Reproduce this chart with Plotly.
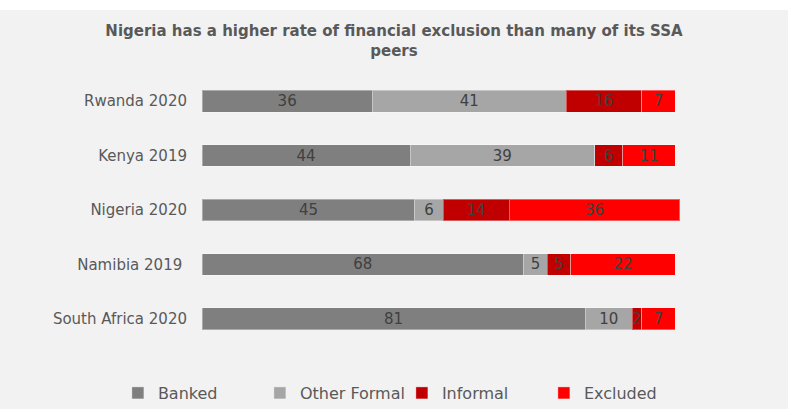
import plotly.graph_objects as go

countries = ["Rwanda 2020", "Kenya 2019", "Nigeria 2020", "Namibia 2019 ", "South Africa 2020"]
banked = [36, 44, 45, 68, 81]
other_formal = [41, 39, 6, 5, 10]
informal = [16, 6, 14, 5, 2]
excluded = [7, 11, 36, 22, 7]

series = [
    ("Banked", banked, "#7F7F7F"),
    ("Other Formal", other_formal, "#A6A6A6"),
    ("Informal", informal, "#C00000"),
    ("Excluded", excluded, "#FF0000"),
]

FONT = "DejaVu Sans"
fig = go.Figure()
for name, vals, col in series:
    fig.add_trace(go.Bar(
        y=countries, x=vals, name=name, orientation="h",
        marker=dict(color=col, line=dict(color="rgba(255,255,255,0.35)", width=1)),
        text=[str(v) for v in vals], textposition="inside",
        insidetextanchor="middle", textangle=0,
        textfont=dict(family=FONT, size=15, color="#404040"),
    ))

PW = 586  # plot width in px
fig.update_layout(
    barmode="stack",
    bargap=0.6,
    width=788, height=409,
    margin=dict(l=202, r=0, t=74, b=63),
    paper_bgcolor="white",
    plot_bgcolor="rgba(0,0,0,0)",
    uniformtext=dict(minsize=15, mode="show"),
    title=dict(
        text="<b>Nigeria has a higher rate of financial exclusion than many of its SSA<br>peers</b>",
        x=0.5, xanchor="center", xref="container",
        y=1 - 36 / 409, yanchor="top", yref="container",
        font=dict(family=FONT, size=15, color="#595959"),
    ),
    xaxis=dict(range=[0, PW / 4.73], visible=False, fixedrange=True),
    yaxis=dict(
        categoryorder="array", categoryarray=countries, autorange="reversed",
        showgrid=False, zeroline=False, showline=False, ticks="",
        ticklabelstandoff=14,
        tickfont=dict(family=FONT, size=15, color="#595959"),
    ),
    legend=dict(
        orientation="h", traceorder="normal",
        x=0.51, xanchor="center", xref="container",
        y=1 - 393 / 409, yanchor="middle", yref="container",
        font=dict(family=FONT, size=16, color="#595959"),
        bgcolor="rgba(0,0,0,0)",
        entrywidth=97, entrywidthmode="pixels",
    ),
    shapes=[dict(
        type="rect", xref="paper", yref="paper", layer="below",
        x0=-202 / PW, x1=1, y0=-63 / 272, y1=1 + 64 / 272,
        fillcolor="#F2F2F2", line=dict(width=0),
    )],
)

fig.write_html("out.html")
